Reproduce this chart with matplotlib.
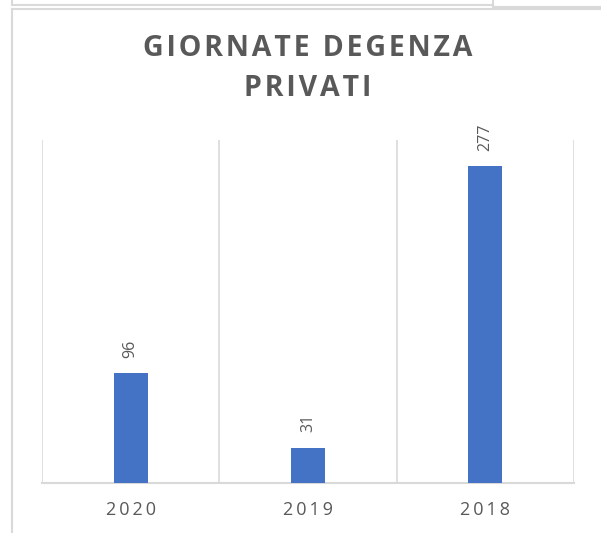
import matplotlib
matplotlib.use('Agg')
import matplotlib.pyplot as plt
from matplotlib.lines import Line2D

# dati
anni = ['2020', '2019', '2018']
giornate = [96, 31, 277]
titolo = ['GIORNATE DEGENZA', 'PRIVATI']

GRIGIO = '#595959'
LINEA = '#d9d9d9'
BLU = '#4472C4'
FONT = ['Open Sans', 'DejaVu Sans']


def spaziato(s, sep='\u2009'):
    # spaziatura fra le lettere come nel grafico di Excel
    return sep.join(s)


fig = plt.figure(figsize=(6.01, 5.33), dpi=100)
ax = fig.add_axes([42 / 601, 1 - 483 / 533, (574 - 42) / 601, (483 - 140) / 533])

x = [i + 0.5 for i in range(len(anni))]
ax.bar(x, giornate, width=0.19, color=BLU, zorder=3)

ax.set_xlim(0, len(anni))
ax.set_ylim(0, 300)
for b in range(len(anni) + 1):
    ax.axvline(b, color=LINEA, linewidth=1.2, zorder=1)

for s in ['top', 'left', 'right']:
    ax.spines[s].set_visible(False)
ax.spines['bottom'].set_color(LINEA)
ax.spines['bottom'].set_linewidth(1.5)
ax.set_yticks([])
ax.set_xticks(x)
ax.set_xticklabels([spaziato(a) for a in anni], family=FONT, fontsize=13, color=GRIGIO)
ax.tick_params(axis='x', length=0, pad=13)

for xi, v in zip(x, giornate):
    ax.annotate(str(v), (xi, v), xytext=(0, 11), textcoords='offset points',
                rotation=90, ha='center', va='bottom', family=FONT,
                fontsize=11.5, color=GRIGIO)

for riga, yp in zip(titolo, [48, 88]):
    fig.text(308 / 601, 1 - yp / 533, spaziato(riga, '\u200a'), ha='center', va='center',
             family=FONT, fontsize=20.5, fontweight='bold', color=GRIGIO)

# bordi del riquadro (e del grafico sopra)
W, H = 601, 533
def lin(x0, y0, x1, y1):
    fig.add_artist(Line2D([x0 / W, x1 / W], [1 - y0 / H, 1 - y1 / H],
                          color=LINEA, linewidth=1.5, transform=fig.transFigure))

lin(11.5, 8.5, 601, 8.5)
lin(11.5, 8.5, 11.5, 533)
lin(11.5, 5, 493, 5)
lin(11.5, 0, 11.5, 5)
lin(493, 0, 493, 7)
lin(493, 7, 601, 7)

fig.savefig('out.png', dpi=100)
